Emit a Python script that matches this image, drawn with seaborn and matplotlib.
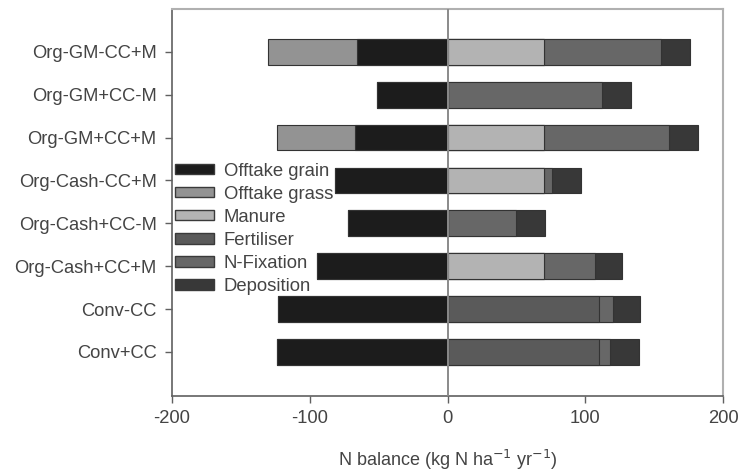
import matplotlib
matplotlib.use("Agg")
import matplotlib.pyplot as plt
from matplotlib.patches import Patch
import seaborn as sns
import pandas as pd
import numpy as np

categories = ["Org-GM-CC+M", "Org-GM+CC-M", "Org-GM+CC+M", "Org-Cash-CC+M",
              "Org-Cash+CC-M", "Org-Cash+CC+M", "Conv-CC", "Conv+CC"]
offtake_grain = [-66, -51, -67, -82, -72, -95, -123, -124]
offtake_grass = [-64, 0, -57, 0, 0, 0, 0, 0]
manure = [70, 0, 70, 70, 0, 70, 0, 0]
fertiliser = [0, 0, 0, 0, 0, 0, 110, 110]
n_fixation = [85, 112, 91, 6, 50, 37, 10, 8]
deposition = [21, 21, 21, 21, 21, 20, 20, 21]
x_ticks = [-200, -100, 0, 100, 200]

series_names = ["Offtake grain", "Offtake grass", "Manure", "Fertiliser", "N-Fixation", "Deposition"]
colors = {"Offtake grain": "#1c1c1c", "Offtake grass": "#939393", "Manure": "#b3b3b3",
          "Fertiliser": "#5a5a5a", "N-Fixation": "#676767", "Deposition": "#383838"}

sns.set_theme(style="white")
plt.rcParams["font.family"] = ["Liberation Sans", "DejaVu Sans"]

df = pd.DataFrame({"category": categories})
df["Offtake grain"] = offtake_grain
df["Offtake grass"] = np.array(offtake_grain) + np.array(offtake_grass)
df["Manure"] = manure
df["Fertiliser"] = df["Manure"] + np.array(fertiliser)
df["N-Fixation"] = df["Fertiliser"] + np.array(n_fixation)
df["Deposition"] = df["N-Fixation"] + np.array(deposition)

fig = plt.figure(figsize=(7.4, 4.74), dpi=100)
ax = fig.add_axes([172/740, 78/474, 551/740, 387/474])

draw_order = ["Offtake grass", "Offtake grain", "Deposition", "N-Fixation", "Fertiliser", "Manure"]
for name in draw_order:
    sns.barplot(data=df, x=name, y="category", color=colors[name], orient="h",
                width=0.6, edgecolor="#333333", linewidth=0.8, saturation=1,
                errorbar=None, ax=ax)

ax.axvline(0, color="#8a8a8a", lw=1.4, zorder=5)
ax.set_xlim(-200, 200)
ax.set_ylim(8.03, -1.0)
ax.set_xticks(x_ticks)
ax.set_xticklabels([str(t) for t in x_ticks])
ax.set_ylabel("")
ax.set_xlabel("N balance (kg N ha$^{-1}$ yr$^{-1}$)", fontsize=13, color="#444444", labelpad=15)

for side in ["top", "right"]:
    ax.spines[side].set_visible(True)
    ax.spines[side].set_color("#b0b0b0")
    ax.spines[side].set_linewidth(1.5)
for side in ["left", "bottom"]:
    ax.spines[side].set_visible(True)
    ax.spines[side].set_color("#606060")
    ax.spines[side].set_linewidth(1.2)

ax.tick_params(axis="both", which="both", direction="out", length=5, width=1,
               color="#606060", labelsize=13.2, labelcolor="#444444",
               left=True, bottom=True)
ax.tick_params(axis="y", pad=6)
ax.tick_params(axis="x", pad=5)

handles = [Patch(facecolor=colors[n], edgecolor="#3a3a3a", linewidth=1.0, label=n) for n in series_names]
ax.legend(handles=handles, loc="center left", bbox_to_anchor=(0.005, 0.432),
          frameon=False, fontsize=13.3, handlelength=2.1, handleheight=0.5,
          handletextpad=0.55, labelspacing=0.33, borderpad=0, borderaxespad=0,
          labelcolor="#444444")

fig.savefig("out.png", dpi=100)
